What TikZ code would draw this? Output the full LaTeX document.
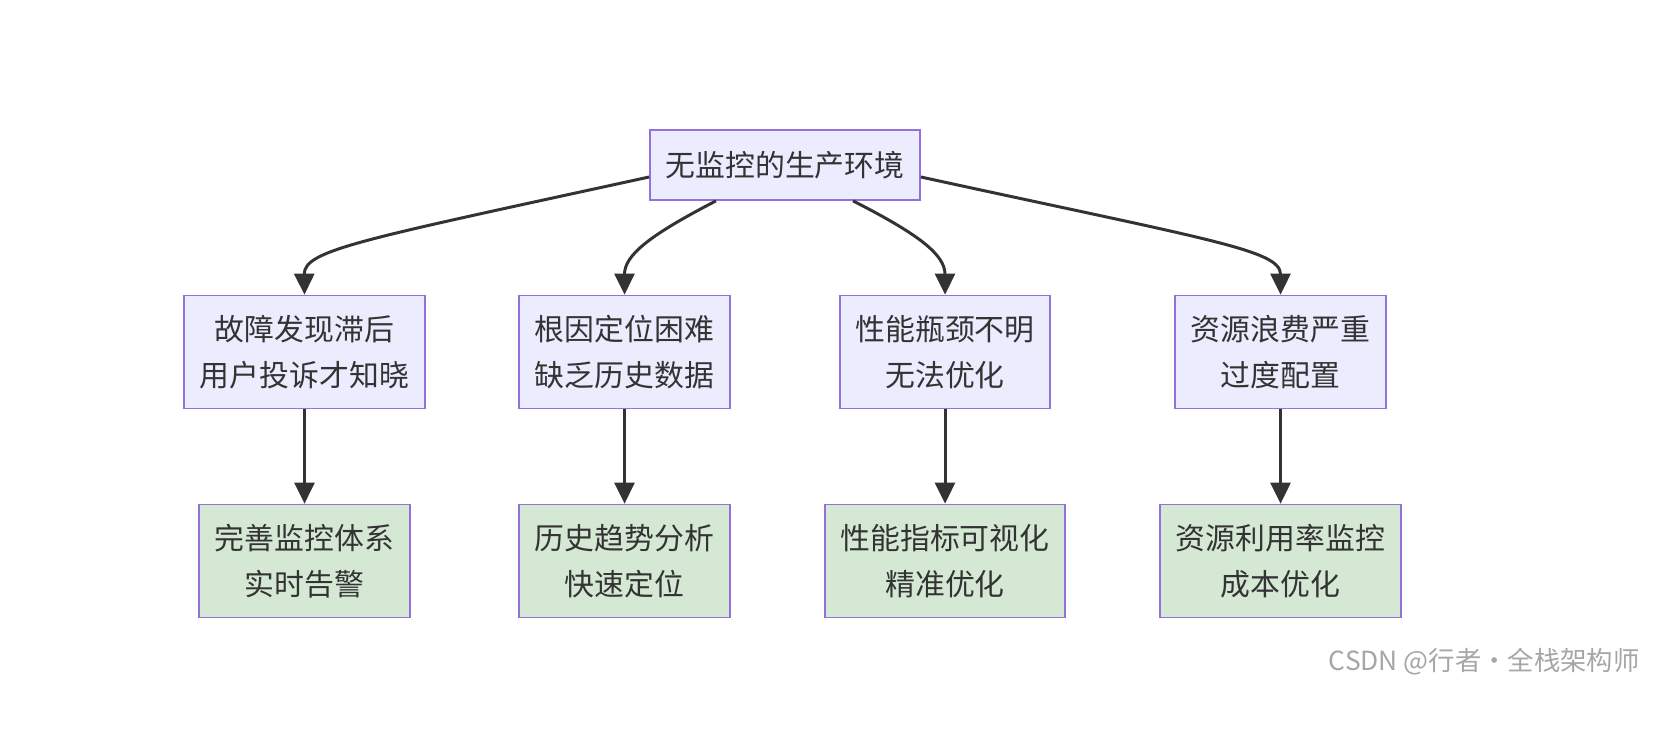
\documentclass[tikz,border=0pt]{standalone}
\usepackage{fontspec}
\setmainfont{Noto Sans CJK SC}
\usetikzlibrary{arrows.meta}
\definecolor{boxpurple}{HTML}{ECECFF}
\definecolor{boxgreen}{HTML}{D5E8D4}
\definecolor{edgepurple}{HTML}{9370DB}
\definecolor{linegray}{HTML}{333333}
\begin{document}
\begin{tikzpicture}[x=0.02cm,y=-0.02cm,
  box/.style ={draw=edgepurple, line width=1pt, rectangle, minimum height=2.26cm, align=center, font=\fontsize{17}{26}\selectfont, text=linegray},
  prob/.style ={box, fill=boxpurple},
  fix/.style ={box, fill=boxgreen},
  arr/.style ={-{Triangle[length=4.2mm,width=4mm]}, line width=1.7pt, draw=linegray}]

\useasboundingbox (0,0) rectangle (1654,730);

\node[prob, minimum width=5.4cm, minimum height=1.4cm] (top) at (785,165) {无监控的生产环境};

\node[prob, minimum width=4.82cm] (p1) at (304.5,352) {故障发现滞后\\用户投诉才知晓};
\node[prob, minimum width=4.22cm] (p2) at (624.5,352) {根因定位困难\\缺乏历史数据};
\node[prob, minimum width=4.2cm] (p3) at (945,352) {性能瓶颈不明\\无法优化};
\node[prob, minimum width=4.22cm] (p4) at (1280.5,352) {资源浪费严重\\过度配置};

\node[fix, minimum width=4.22cm] (s1) at (304.5,561) {完善监控体系\\实时告警};
\node[fix, minimum width=4.22cm] (s2) at (624.5,561) {历史趋势分析\\快速定位};
\node[fix, minimum width=4.8cm] (s3) at (945,561) {性能指标可视化\\精准优化};
\node[fix, minimum width=4.82cm] (s4) at (1280.5,561) {资源利用率监控\\成本优化};

% top to problems
\draw[arr] ([yshift=-0.24cm]top.west) .. controls (360,240) and (304,250) .. (p1.north);
\draw[arr] ([xshift=-1.38cm]top.south) .. controls (650,235) and (624.5,255) .. (p2.north);
\draw[arr] ([xshift=1.36cm]top.south) .. controls (920,235) and (945,255) .. (p3.north);
\draw[arr] ([yshift=-0.24cm]top.east) .. controls (1210,240) and (1280.5,250) .. (p4.north);

% problems to fixes
\foreach \i in {1,...,4}
  \draw[arr] (p\i) -- (s\i);

\node[text=gray!70, font=\fontsize{15}{17}\selectfont, anchor=east, inner sep=0pt] (mark) at (1640,662) {CSDN @行者·全栈架构师};

\end{tikzpicture}
\end{document}
